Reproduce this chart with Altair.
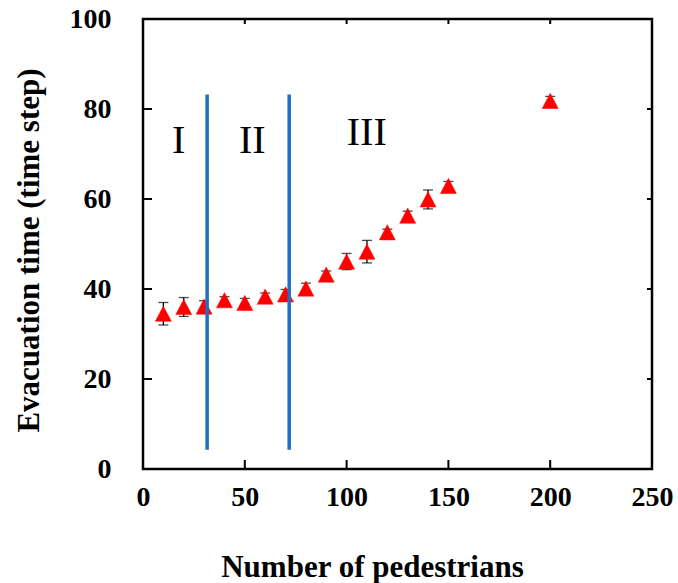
import altair as alt
import pandas as pd

# Evacuation time versus number of pedestrians (mean with error bars)
pedestrians = [10, 20, 30, 40, 50, 60, 70, 80, 90, 100, 110, 120, 130, 140, 150, 200]
evac_time = [34.5, 36.0, 36.1, 37.5, 36.9, 38.3, 38.8, 40.1, 43.2, 46.1, 48.3, 52.6, 56.3, 59.9, 62.9, 81.8]
evac_err = [2.5, 2.1, 1.3, 0.8, 1.0, 0.8, 1.1, 1.2, 0.8, 1.8, 2.5, 0.7, 1.0, 2.1, 1.0, 1.0]

# Phase boundaries and phase labels
boundary_x = [31.5, 71.8]
boundary_y = [4.3, 83.2]
phase_names = ["I", "II", "III"]
phase_x = [17.5, 53.7, 109.9]
phase_y = [70.2, 70.2, 72.0]

# Axis tick values
x_ticks = [0, 50, 100, 150, 200, 250]
y_ticks = [0, 20, 40, 60, 80, 100]
x_inner = [50, 100, 150, 200]
y_inner = [20, 40, 60, 80]

W, H = 509, 450
SERIF = "Liberation Serif"

df = pd.DataFrame({"n": pedestrians, "t": evac_time, "e": evac_err})
df["lo"] = df["t"] - df["e"]
df["hi"] = df["t"] + df["e"]

xs = alt.Scale(domain=[0, 250], nice=False, zero=False)
ys = alt.Scale(domain=[0, 100], nice=False, zero=False)

x_axis = alt.Axis(
    values=x_ticks, format="d", labelFont=SERIF, labelFontSize=28, labelFontWeight="bold",
    labelColor="black", labelPadding=14, labelFlush=False, labelOverlap=False,
    title="Number of pedestrians", titleFont=SERIF, titleFontSize=31, titleFontWeight="bold",
    titleColor="black", titleX=229, titleY=107, titleAlign="center", titleBaseline="alphabetic",
    titleAnchor="start",
)
y_axis = alt.Axis(
    values=y_ticks, format="d", labelFont=SERIF, labelFontSize=28, labelFontWeight="bold",
    labelColor="black", labelPadding=32, labelFlush=False, labelOverlap=False,
    title="Evacuation time (time step)", titleFont=SERIF, titleFontSize=31, titleFontWeight="bold",
    titleColor="black", titleX=-105, titleY=231, titleAngle=270, titleAlign="center",
    titleBaseline="alphabetic", titleAnchor="start",
)


def X(field):
    return alt.X(field, scale=xs, axis=x_axis)


def Y(field):
    return alt.Y(field, scale=ys, axis=y_axis)


base = alt.Chart(df)

err_rule = base.mark_rule(color="black", strokeWidth=1.3).encode(
    x=X("n:Q"), y=Y("lo:Q"), y2="hi:Q"
)
cap_lo = base.mark_tick(color="black", orient="horizontal", size=10, thickness=1.3).encode(
    x=X("n:Q"), y=Y("lo:Q")
)
cap_hi = base.mark_tick(color="black", orient="horizontal", size=10, thickness=1.3).encode(
    x=X("n:Q"), y=Y("hi:Q")
)

points = base.mark_point(
    shape="M0,-0.95L1,0.95L-1,0.95Z", filled=True, fill="#FF0000", stroke="#FF0000",
    strokeWidth=0.5, opacity=1, size=256,
).encode(x=X("n:Q"), y=Y("t:Q"))

bounds = alt.Chart(
    pd.DataFrame({"bx": boundary_x, "y0": [boundary_y[0]] * 2, "y1": [boundary_y[1]] * 2})
).mark_rule(color="#1F6FC4", strokeWidth=3.5).encode(
    x=X("bx:Q"), y=Y("y0:Q"), y2="y1:Q"
)

phases = alt.Chart(pd.DataFrame({"name": phase_names, "px": phase_x, "py": phase_y})).mark_text(
    font=SERIF, fontSize=40, color="black", align="center", baseline="alphabetic"
).encode(x=X("px:Q"), y=Y("py:Q"), text="name:N")

# Inward tick marks on all four sides of the frame
tick_x_df = pd.DataFrame({"v": x_inner})
tick_y_df = pd.DataFrame({"v": y_inner})
bottom_ticks = alt.Chart(tick_x_df).mark_rule(color="black", strokeWidth=2).encode(
    x=X("v:Q"), y=alt.value(H), y2=alt.value(H - 9)
)
top_ticks = alt.Chart(tick_x_df).mark_rule(color="black", strokeWidth=2).encode(
    x=X("v:Q"), y=alt.value(0), y2=alt.value(5)
)
left_ticks = alt.Chart(tick_y_df).mark_rule(color="black", strokeWidth=2).encode(
    y=Y("v:Q"), x=alt.value(0), x2=alt.value(9)
)
right_ticks = alt.Chart(tick_y_df).mark_rule(color="black", strokeWidth=2).encode(
    y=Y("v:Q"), x=alt.value(W), x2=alt.value(W - 5)
)

chart = alt.layer(
    err_rule, cap_lo, cap_hi, points, bounds, phases,
    bottom_ticks, top_ticks, left_ticks, right_ticks,
).properties(
    width=W, height=H,
    autosize=alt.AutoSizeParams(type="none"),
    padding={"left": 143, "top": 19, "right": 26, "bottom": 114},
    background="white",
).configure_view(
    stroke="black", strokeWidth=2.5
).configure_axis(
    grid=False, domain=False, ticks=False
)

chart.save("out.html", embed_options={"renderer": "svg", "actions": False})
